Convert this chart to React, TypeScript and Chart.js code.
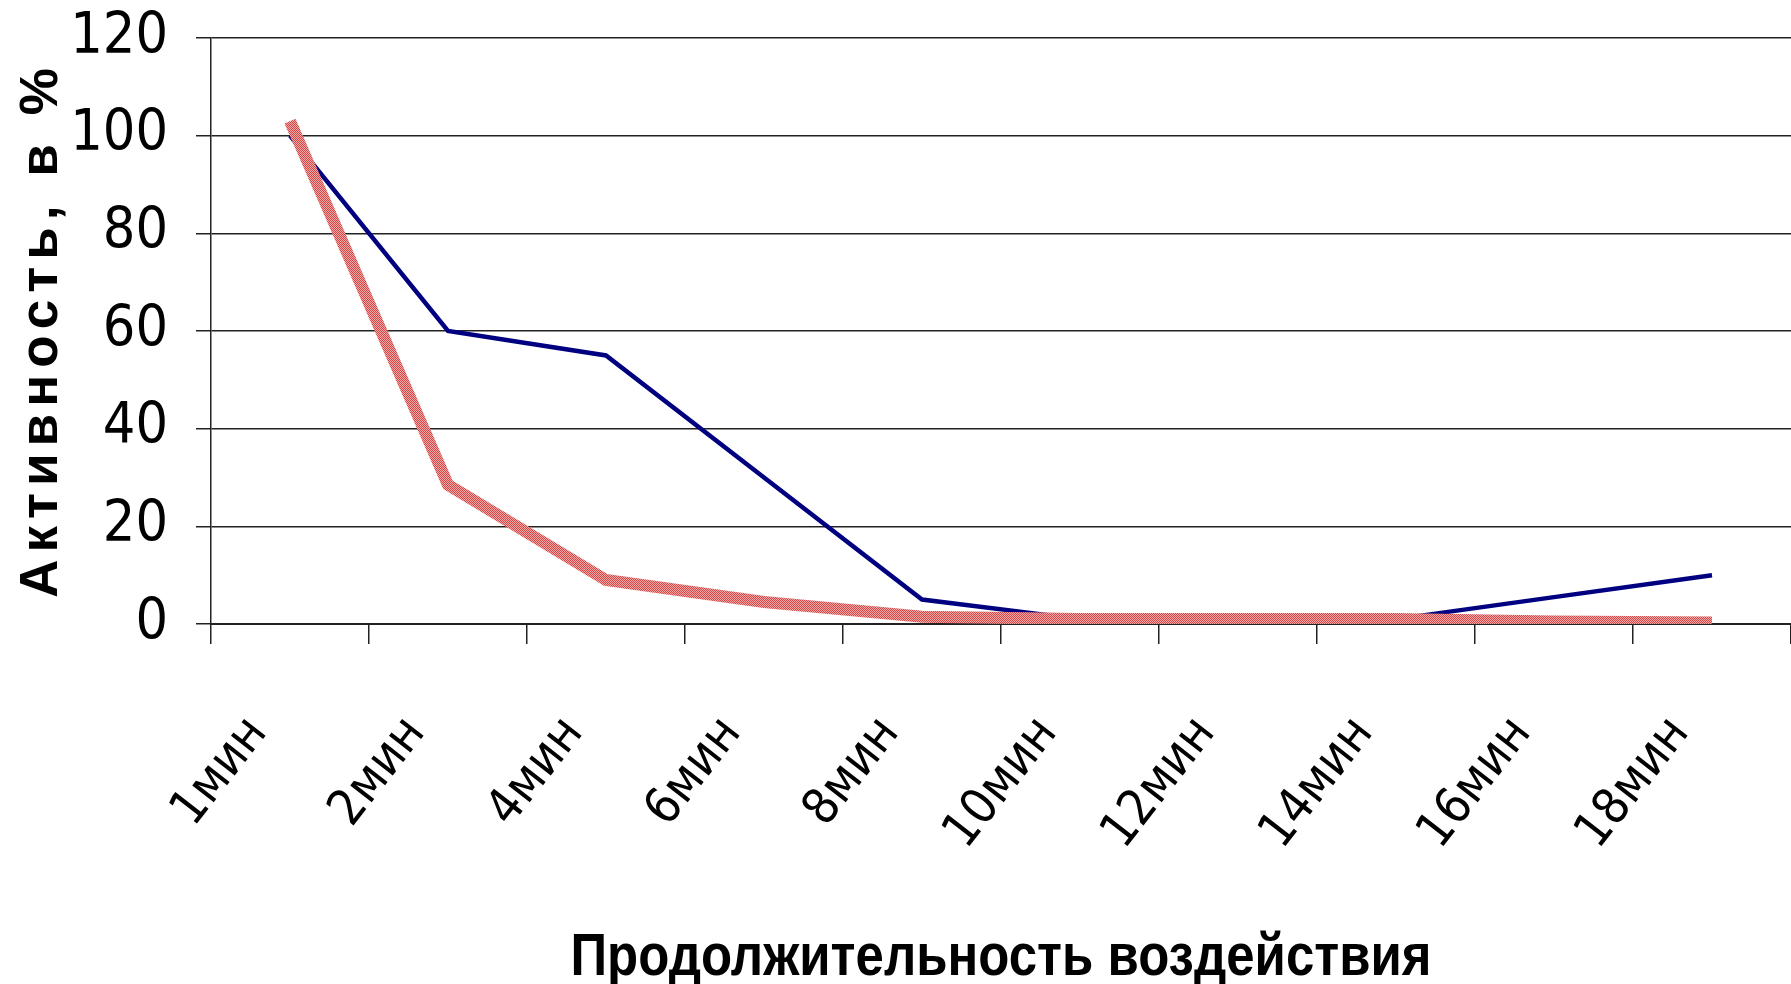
import React, { useEffect, useRef } from 'react';
import { Chart, registerables } from 'chart.js';

Chart.register(...registerables);

const categories = ['1мин', '2мин', '4мин', '6мин', '8мин', '10мин', '12мин', '14мин', '16мин', '18мин'];
const redSeries = [103, 28.5, 9, 4.5, 1.5, 1, 1, 1, 0.5, 0.3];
const blueSeries = [100, 60, 55, 30, 5, 1, 1, 1, 5.5, 10];
const yTickValues = [0, 20, 40, 60, 80, 100, 120];
const xTitle = 'Продолжительность воздействия';
const yTitle = 'Активность, в %';

const NARROW = '"Liberation Sans Narrow", "Arial Narrow", "DejaVu Sans Condensed", sans-serif';

export default function App() {
  const ref = useRef<HTMLCanvasElement>(null);

  useEffect(() => {
    const canvas = ref.current!;
    const pc = document.createElement('canvas');
    pc.width = 2;
    pc.height = 2;
    const p = pc.getContext('2d')!;
    p.fillStyle = '#F3A8A8';
    p.fillRect(0, 0, 2, 2);
    p.fillStyle = '#D44848';
    p.fillRect(0, 0, 1, 1);
    p.fillRect(1, 1, 1, 1);
    const ctx = canvas.getContext('2d')!;
    const pattern = ctx.createPattern(pc, 'repeat');

    const titlesPlugin = {
      id: 'axisTitles',
      afterDraw(chart: any) {
        const c = chart.ctx as CanvasRenderingContext2D;
        const area = chart.chartArea;
        // y axis title, letter-spaced, rotated
        c.save();
        c.translate(57, 333);
        c.rotate(-Math.PI / 2);
        c.font = 'bold 53px "Liberation Sans", Arial, sans-serif';
        (c as any).letterSpacing = '7px';
        c.fillStyle = '#000';
        c.textAlign = 'center';
        c.textBaseline = 'alphabetic';
        c.fillText(yTitle, 3.5, 0);
        c.restore();
        // x axis title, condensed
        c.save();
        c.font = 'bold 60px "Liberation Sans", Arial, sans-serif';
        const w = c.measureText(xTitle).width;
        const sx = 861 / w;
        c.translate((area.left + area.right) / 2, 975);
        c.scale(sx, 1);
        c.fillStyle = '#000';
        c.textAlign = 'center';
        c.textBaseline = 'alphabetic';
        c.fillText(xTitle, 0, 0);
        c.restore();
      },
    };

    const chart = new Chart(canvas, {
      type: 'line',
      data: {
        labels: categories,
        datasets: [
          { data: redSeries, borderColor: pattern as any, borderWidth: 12, pointRadius: 0, tension: 0 },
          { data: blueSeries, borderColor: '#000080', borderWidth: 4.5, pointRadius: 0, tension: 0 },
        ],
      },
      options: {
        animation: false,
        responsive: true,
        maintainAspectRatio: false,
        layout: { padding: { top: 38, left: 0, right: 0, bottom: 0 } },
        plugins: { legend: { display: false }, tooltip: { enabled: false } },
        scales: {
          x: {
            offset: true,
            grid: { offset: true, drawOnChartArea: false, tickLength: 20, color: '#222', lineWidth: 1.5 },
            border: { color: '#222', width: 2 },
            ticks: {
              autoSkip: false,
              minRotation: 52,
              maxRotation: 52,
              padding: 62,
              labelOffset: -32,
              color: '#000',
              font: { family: NARROW, size: 50 },
            },
            title: { display: false, text: xTitle },
            afterFit: (s: any) => {
              s.height = 360;
              s.paddingLeft = 0;
              s.paddingRight = 0;
            },
          },
          y: {
            min: 0,
            max: 120,
            afterBuildTicks: (s: any) => {
              s.ticks = yTickValues.map((v) => ({ value: v }));
            },
            ticks: { padding: 28, color: '#000', font: { family: NARROW, size: 57 } },
            grid: { tickLength: 15, color: '#222', lineWidth: 1.5 },
            border: { color: '#222', width: 1.5 },
            afterFit: (s: any) => {
              s.width = 211;
              s.paddingTop = 0;
              s.paddingBottom = 0;
            },
          },
        },
      },
      plugins: [titlesPlugin],
    });
    return () => chart.destroy();
  }, []);

  return (
    <div style={{ position: 'fixed', left: 0, top: 0, width: '1791px', height: '984px', background: '#fff' }}>
      <canvas ref={ref} />
    </div>
  );
}
